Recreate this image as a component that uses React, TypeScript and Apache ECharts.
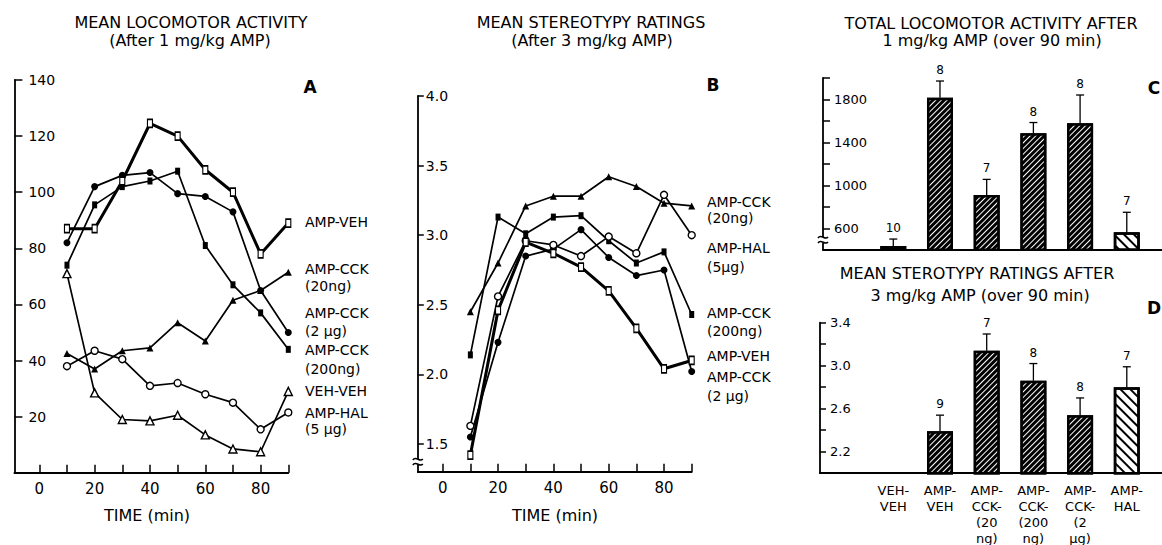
import React, { useEffect, useRef } from 'react';
import * as echarts from 'echarts';

const FONT = "'DejaVu Sans', sans-serif";

// ---------- Data ----------
const TIMES = [10, 20, 30, 40, 50, 60, 70, 80, 90];
const X_TICKS = [0, 10, 20, 30, 40, 50, 60, 70, 80, 90];
const X_LABELS = [0, 20, 40, 60, 80];

// Panel A – mean locomotor activity (1 mg/kg AMP)
const A_AMP_VEH = [87, 87, 104, 124.5, 120, 108, 100, 78, 89];
const A_CCK_2UG = [82, 102, 106, 107, 99.5, 98.5, 93, 65, 50];
const A_CCK_200NG = [74, 95.5, 102, 104, 107.5, 81, 67, 57, 44];
const A_CCK_20NG = [42.5, 37, 43.5, 44.5, 53.5, 47, 61.5, 65, 71.5];
const A_VEH_VEH = [71, 28.5, 19, 18.5, 20.5, 13.5, 8.5, 7.5, 29];
const A_AMP_HAL = [38, 43.5, 40.5, 31, 32, 28, 25, 15.5, 21.5];

// Panel B – mean stereotypy ratings (3 mg/kg AMP)
const B_CCK_20NG = [2.45, 2.8, 3.21, 3.28, 3.28, 3.42, 3.35, 3.23, 3.21];
const B_AMP_HAL = [1.63, 2.56, 2.96, 2.93, 2.85, 2.99, 2.87, 3.29, 3.0];
const B_CCK_200NG = [2.14, 3.13, 3.01, 3.13, 3.14, 2.96, 2.8, 2.88, 2.43];
const B_AMP_VEH = [1.42, 2.46, 2.95, 2.87, 2.77, 2.6, 2.33, 2.04, 2.1];
const B_CCK_2UG = [1.55, 2.23, 2.85, 2.9, 3.04, 2.84, 2.71, 2.75, 2.02];
const B_Y_TICKS = [1.5, 2.0, 2.5, 3.0, 3.5, 4.0];

// Panels C and D – group bars
const GROUPS = ['VEH-\nVEH', 'AMP-\nVEH', 'AMP-\nCCK-\n(20\nng)', 'AMP-\nCCK-\n(200\nng)', 'AMP-\nCCK-\n(2\nµg)', 'AMP-\nHAL'];
const GROUP_POS = [0, 1, 2, 3, 4, 5];
const C_MEANS = [435, 1815, 910, 1484, 1577, 563];
const C_SEM = [65, 155, 145, 100, 263, 186];
const C_N = [10, 8, 7, 8, 8, 7];
const C_Y_LABELS = [600, 1000, 1400, 1800];
const D_MEANS = [null, 2.39, 3.14, 2.86, 2.54, 2.8];
const D_SEM = [null, 0.15, 0.155, 0.16, 0.16, 0.19];
const D_N = [null, 9, 7, 8, 8, 7];
const D_Y_LABELS = [2.2, 2.6, 3.0, 3.4];

// ---------- Styles ----------
type Marker = { symbol: string; size: any; fill: string };
const OPEN_SQ: Marker = { symbol: 'rect', size: [5, 8], fill: '#fff' };
const FILL_SQ: Marker = { symbol: 'rect', size: [5, 7], fill: '#000' };
const FILL_CI: Marker = { symbol: 'circle', size: 7, fill: '#000' };
const OPEN_CI: Marker = { symbol: 'circle', size: 7, fill: '#fff' };
const FILL_TR: Marker = { symbol: 'triangle', size: 7, fill: '#000' };
const OPEN_TR: Marker = { symbol: 'triangle', size: 8, fill: '#fff' };

const lineSeries = (name: string, values: number[], m: Marker, idx: number, thick = false) => ({
  type: 'line',
  name,
  xAxisIndex: idx,
  yAxisIndex: idx,
  data: TIMES.map((t, i) => [t, values[i]]),
  symbol: m.symbol,
  symbolSize: m.size,
  showAllSymbol: true,
  lineStyle: { color: '#000', width: thick ? 3 : 1.7 },
  itemStyle: { color: m.fill, borderColor: '#000', borderWidth: m.fill === '#fff' ? 1.4 : 0 },
  emphasis: { disabled: true },
  silent: true,
  z: thick ? 4 : 3,
});

const HATCH_DARK = { symbol: 'rect', symbolSize: 1, dashArrayX: [1, 0], dashArrayY: [1, 3], rotation: -Math.PI / 4, color: '#fff' };
const HATCH_LIGHT = { symbol: 'rect', symbolSize: 1, dashArrayX: [1, 0], dashArrayY: [2, 5], rotation: Math.PI / 4, color: '#000' };

const barData = (means: (number | null)[]) =>
  GROUP_POS.filter((i) => means[i] != null).map((i) => ({
    value: [GROUP_POS[i], means[i]],
    itemStyle: i === 5 ? { color: '#fff', decal: HATCH_LIGHT } : { color: '#000', decal: HATCH_DARK },
  }));

const errData = (means: (number | null)[], sem: (number | null)[], n: (number | null)[]) =>
  GROUP_POS.filter((i) => means[i] != null).map((i) => [GROUP_POS[i], means[i], sem[i], n[i]]);

const errorSeries = (idx: number, data: any[]) => ({
  type: 'custom',
  xAxisIndex: idx,
  yAxisIndex: idx,
  data,
  silent: true,
  z: 5,
  renderItem: (_p: any, api: any) => {
    const x = api.value(0);
    const m = api.value(1);
    const e = api.value(2);
    const n = api.value(3);
    const b = api.coord([x, m]);
    const t = api.coord([x, m + e]);
    return {
      type: 'group',
      children: [
        { type: 'line', shape: { x1: b[0], y1: b[1], x2: t[0], y2: t[1] }, style: { stroke: '#000', lineWidth: 1.3 } },
        { type: 'line', shape: { x1: t[0] - 4, y1: t[1], x2: t[0] + 4, y2: t[1] }, style: { stroke: '#000', lineWidth: 1.3 } },
        {
          type: 'text',
          x: t[0],
          y: t[1] - 11,
          style: { text: String(n), fontSize: 12, fontFamily: FONT, fill: '#000', align: 'center', verticalAlign: 'middle' },
        },
      ],
    };
  },
});

const axisLineStyle = { show: true, onZero: false, lineStyle: { color: '#000', width: 1.8 } };
const tickStyle = { color: '#000', width: 1.5 };

const txt = (text: string, x: number, y: number, size: number, align = 'left', weight = 'normal') => ({
  type: 'text',
  x,
  y,
  silent: true,
  style: { text, fontSize: size, fontFamily: FONT, fontWeight: weight, fill: '#000', align, verticalAlign: 'middle' },
});

// small axis-break mark drawn across a vertical axis line
const axisBreak = (x: number, y: number) => [
  { type: 'rect', silent: true, z: 100, shape: { x: x - 3, y: y - 3, width: 6, height: 6 }, style: { fill: '#fff' } },
  {
    type: 'bezierCurve', silent: true, z: 101,
    shape: { x1: x - 5, y1: y - 2, x2: x + 5, y2: y - 3, cpx1: x - 2, cpy1: y - 7, cpx2: x + 2, cpy2: y + 1 },
    style: { stroke: '#000', lineWidth: 1.5, fill: 'none' },
  },
  {
    type: 'bezierCurve', silent: true, z: 101,
    shape: { x1: x - 5, y1: y + 3, x2: x + 5, y2: y + 2, cpx1: x - 2, cpy1: y - 2, cpx2: x + 2, cpy2: y + 6 },
    style: { stroke: '#000', lineWidth: 1.5, fill: 'none' },
  },
];

const option: any = {
  animation: false,
  backgroundColor: '#fff',
  grid: [
    { left: 14.4, top: 80, width: 273.9, height: 392.8, outerBoundsMode: 'none' },
    { left: 417.8, top: 96, width: 273.9, height: 375.8, outerBoundsMode: 'none' },
    { left: 823, top: 77.8, width: 339, height: 172, outerBoundsMode: 'none' },
    { left: 820, top: 322.7, width: 342, height: 150.5, outerBoundsMode: 'none' },
  ],
  xAxis: [
    {
      type: 'value', gridIndex: 0, min: -9, max: 90,
      axisLine: axisLineStyle,
      axisTick: { show: true, inside: true, length: 8, customValues: X_TICKS, lineStyle: tickStyle },
      axisLabel: { customValues: X_LABELS, margin: 9, fontSize: 15, fontFamily: FONT, color: '#000' },
      splitLine: { show: false },
    },
    {
      type: 'value', gridIndex: 1, min: -9, max: 90,
      axisLine: axisLineStyle,
      axisTick: { show: true, inside: true, length: 8, customValues: X_TICKS, lineStyle: tickStyle },
      axisLabel: { customValues: X_LABELS, margin: 9, fontSize: 15, fontFamily: FONT, color: '#000' },
      splitLine: { show: false },
    },
    {
      type: 'value', gridIndex: 2, min: -1.505, max: 5.754,
      axisLine: axisLineStyle,
      axisTick: { show: false },
      axisLabel: { show: false },
      splitLine: { show: false },
    },
    {
      type: 'value', gridIndex: 3, min: -1.57, max: 5.754,
      axisLine: axisLineStyle,
      axisTick: { show: false },
      axisLabel: {
        customValues: GROUP_POS, margin: 9, fontSize: 13, lineHeight: 16, fontFamily: FONT, color: '#000',
        formatter: (v: number) => GROUPS[Math.round(v)] ?? '',
      },
      splitLine: { show: false },
    },
  ],
  yAxis: [
    {
      type: 'value', gridIndex: 0, min: 0, max: 140, interval: 20,
      axisLine: axisLineStyle,
      axisTick: { show: true, inside: true, length: 8, lineStyle: tickStyle },
      axisLabel: { inside: true, margin: 14, fontSize: 14, fontFamily: FONT, color: '#000', formatter: (v: number) => (v === 0 ? '' : String(v)) },
      splitLine: { show: false },
    },
    {
      type: 'value', gridIndex: 1, min: 1.3, max: 4.0,
      axisLine: axisLineStyle,
      axisTick: { show: true, inside: true, length: 6, customValues: B_Y_TICKS, lineStyle: tickStyle },
      axisLabel: { inside: true, margin: 8, customValues: B_Y_TICKS, fontSize: 14, fontFamily: FONT, color: '#000', formatter: (v: number) => v.toFixed(1) },
      splitLine: { show: false },
    },
    {
      type: 'value', gridIndex: 2, min: 400, max: 2000, interval: 200,
      axisLine: axisLineStyle,
      axisTick: { show: true, inside: true, length: 7, lineStyle: tickStyle },
      axisLabel: {
        inside: true, margin: 11, fontSize: 13, fontFamily: FONT, color: '#000',
        formatter: (v: number) => (C_Y_LABELS.includes(Math.round(v)) ? String(Math.round(v)) : ''),
      },
      splitLine: { show: false },
    },
    {
      type: 'value', gridIndex: 3, min: 2.0, max: 3.4, interval: 0.2,
      axisLine: axisLineStyle,
      axisTick: { show: true, inside: true, length: 6, lineStyle: tickStyle },
      axisLabel: {
        inside: true, margin: 10, fontSize: 13, fontFamily: FONT, color: '#000',
        formatter: (v: number) => (D_Y_LABELS.some((l) => Math.abs(l - v) < 1e-6) ? v.toFixed(1) : ''),
      },
      splitLine: { show: false },
    },
  ],
  series: [
    lineSeries('AMP-HAL (5 µg)', A_AMP_HAL, OPEN_CI, 0),
    lineSeries('VEH-VEH', A_VEH_VEH, OPEN_TR, 0),
    lineSeries('AMP-CCK (20ng)', A_CCK_20NG, FILL_TR, 0),
    lineSeries('AMP-CCK (200ng)', A_CCK_200NG, FILL_SQ, 0),
    lineSeries('AMP-CCK (2 µg)', A_CCK_2UG, FILL_CI, 0),
    lineSeries('AMP-VEH', A_AMP_VEH, OPEN_SQ, 0, true),

    lineSeries('AMP-CCK (20ng)', B_CCK_20NG, FILL_TR, 1),
    lineSeries('AMP-CCK (200ng)', B_CCK_200NG, FILL_SQ, 1),
    lineSeries('AMP-CCK (2 µg)', B_CCK_2UG, FILL_CI, 1),
    lineSeries('AMP-HAL (5µg)', B_AMP_HAL, OPEN_CI, 1),
    lineSeries('AMP-VEH', B_AMP_VEH, OPEN_SQ, 1, true),

    {
      type: 'bar', xAxisIndex: 2, yAxisIndex: 2, barWidth: 26, silent: true,
      data: barData(C_MEANS),
      itemStyle: { borderColor: '#000', borderWidth: 2.5 },
    },
    errorSeries(2, errData(C_MEANS, C_SEM, C_N)),
    {
      type: 'bar', xAxisIndex: 3, yAxisIndex: 3, barWidth: 26, silent: true,
      data: barData(D_MEANS),
      itemStyle: { borderColor: '#000', borderWidth: 2.5 },
    },
    errorSeries(3, errData(D_MEANS, D_SEM, D_N)),
  ],
  graphic: {
    elements: [
      // titles
      txt('MEAN LOCOMOTOR ACTIVITY', 191, 22, 16, 'center'),
      txt('(After 1 mg/kg AMP)', 190, 40, 16, 'center'),
      txt('MEAN STEREOTYPY RATINGS', 591, 22, 16, 'center'),
      txt('(After 3 mg/kg AMP)', 592, 40, 16, 'center'),
      txt('TOTAL LOCOMOTOR ACTIVITY AFTER', 991, 23, 16, 'center'),
      txt('1 mg/kg AMP (over 90 min)', 992, 40, 16, 'center'),
      txt('MEAN STEROTYPY RATINGS AFTER', 977, 273, 16, 'center'),
      txt('3 mg/kg AMP (over 90 min)', 980, 295, 16, 'center'),
      // panel letters
      txt('A', 310, 87, 17, 'center', 'bold'),
      txt('B', 713, 85, 17, 'center', 'bold'),
      txt('C', 1154, 88, 17, 'center', 'bold'),
      txt('D', 1154, 308, 17, 'center', 'bold'),
      // axis names
      txt('TIME (min)', 147, 515, 16, 'center'),
      txt('TIME (min)', 555, 515, 16, 'center'),
      // panel A labels
      txt('AMP-VEH', 305, 222, 14),
      txt('AMP-CCK', 305, 269, 14),
      txt('(20ng)', 305, 286, 14),
      txt('AMP-CCK', 305, 313, 14),
      txt('(2 µg)', 305, 331, 14),
      txt('AMP-CCK', 305, 350, 14),
      txt('(200ng)', 305, 369, 14),
      txt('VEH-VEH', 305, 391, 14),
      txt('AMP-HAL', 305, 413, 14),
      txt('(5 µg)', 305, 429, 14),
      // panel B labels
      txt('AMP-CCK', 707, 202, 14),
      txt('(20ng)', 707, 218, 14),
      txt('AMP-HAL', 707, 248, 14),
      txt('(5µg)', 707, 267, 14),
      txt('AMP-CCK', 707, 313, 14),
      txt('(200ng)', 707, 331, 14),
      txt('AMP-VEH', 707, 356, 14),
      txt('AMP-CCK', 707, 377, 14),
      txt('(2 µg)', 707, 396, 14),
      // axis breaks
      ...axisBreak(417.8, 462),
      ...axisBreak(823, 240),
    ],
  },
};

export default function App() {
  const ref = useRef<HTMLDivElement>(null);
  useEffect(() => {
    const chart = echarts.init(ref.current as HTMLDivElement, null, { renderer: 'svg' });
    chart.setOption(option);
    return () => chart.dispose();
  }, []);
  return (
    <div
      ref={ref}
      style={{ position: 'fixed', left: 0, top: 0, width: 1162, height: 545, background: '#fff' }}
    />
  );
}
